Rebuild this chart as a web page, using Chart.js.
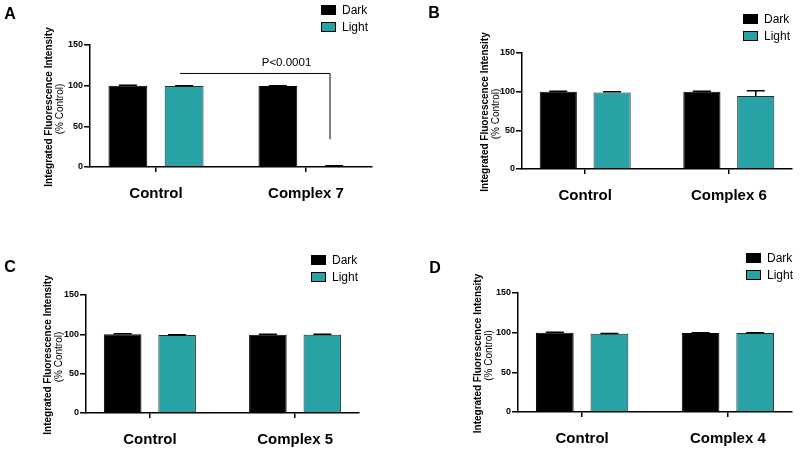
<!DOCTYPE html>
<html><head><meta charset="utf-8">
<script src="https://cdn.jsdelivr.net/npm/chart.js@4"></script>
<style>
html,body{margin:0;padding:0;background:#fff;}
body{width:800px;height:451px;position:relative;overflow:hidden;}
canvas{position:absolute;}
</style></head><body>
<canvas id="cA" width="400" height="225" style="left:0;top:0;width:400px;height:225px"></canvas>
<canvas id="cB" width="400" height="225" style="left:400px;top:0;width:400px;height:225px"></canvas>
<canvas id="cC" width="400" height="226" style="left:0;top:225px;width:400px;height:226px"></canvas>
<canvas id="cD" width="400" height="226" style="left:400px;top:225px;width:400px;height:226px"></canvas>
<script>
// ---- data ----
const seriesNames = ['Dark', 'Light'];
const yTicks = [0, 50, 100, 150];

const categoriesA = ['Control', 'Complex 7'];
const darkA = [100, 99.5];
const lightA = [99.5, 1];
const darkErrA = [0.5, 0.5];
const lightErrA = [0.5, 0.5];
const pLabelA = 'P<0.0001';

const categoriesB = ['Control', 'Complex 6'];
const darkB = [100, 100];
const lightB = [99, 94.5];
const darkErrB = [0.5, 0.5];
const lightErrB = [0.8, 6.8];

const categoriesC = ['Control', 'Complex 5'];
const darkC = [100, 99.5];
const lightC = [99, 99.5];
const darkErrC = [0.6, 0.5];
const lightErrC = [0.6, 0.5];

const categoriesD = ['Control', 'Complex 4'];
const darkD = [100, 99.5];
const lightD = [98.5, 99.5];
const darkErrD = [0.6, 0.5];
const lightErrD = [0.6, 0.5];

const darkColor = '#000000';
const lightColor = '#29a2a5';
const FONT = '"Liberation Sans", Arial, Helvetica, sans-serif';

const panelPlugin = {
  id: 'panel',
  afterDatasetsDraw(chart, args, o) {
    const ctx = chart.ctx, ys = chart.scales.y;
    chart.data.datasets.forEach((ds, di) => {
      const meta = chart.getDatasetMeta(di);
      meta.data.forEach((el, i) => {
        const e = ds.errors[i];
        const top = ys.getPixelForValue(ds.data[i].y + e);
        ctx.save();
        ctx.strokeStyle = '#000'; ctx.lineWidth = 1.5;
        ctx.beginPath();
        ctx.moveTo(el.x, el.y); ctx.lineTo(el.x, top);
        ctx.moveTo(el.x - 9, top); ctx.lineTo(el.x + 9, top);
        ctx.stroke(); ctx.restore();
      });
    });
  },
  afterDraw(chart, args, o) {
    const ctx = chart.ctx, ca = chart.chartArea, xs = chart.scales.x, ys = chart.scales.y;
    ctx.save();
    ctx.fillStyle = '#000';
    ctx.font = 'bold 16px ' + FONT;
    ctx.textAlign = 'center'; ctx.textBaseline = 'middle';
    ctx.fillText(o.letter, o.letterX, o.letterY);
    chart.data.datasets.forEach((ds, i) => {
      const y = o.legY + i * 17;
      ctx.fillStyle = ds.backgroundColor;
      ctx.fillRect(o.legX, y, 15, 10);
      ctx.strokeStyle = '#000'; ctx.lineWidth = 1;
      ctx.strokeRect(o.legX + 0.5, y + 0.5, 14, 9);
      ctx.fillStyle = '#000';
      ctx.font = '12px ' + FONT;
      ctx.textAlign = 'left'; ctx.textBaseline = 'middle';
      ctx.fillText(ds.label, o.legX + 21, y + 5.5);
    });
    const cy = (ca.top + ca.bottom) / 2 + 1;
    ctx.translate(o.titleX, cy);
    ctx.rotate(-Math.PI / 2);
    ctx.textAlign = 'center'; ctx.textBaseline = 'middle';
    ctx.font = 'bold 10px ' + FONT;
    ctx.fillText('Integrated Fluorescence Intensity', 0, 0);
    ctx.font = '10px ' + FONT;
    ctx.fillText('(% Control)', -2, 11.5);
    ctx.restore();
    if (o.bracket) {
      const b = o.bracket;
      ctx.save();
      ctx.strokeStyle = '#000'; ctx.lineWidth = 1;
      const x1 = xs.getPixelForValue(b.x1), x2 = xs.getPixelForValue(b.x2);
      const y1 = ys.getPixelForValue(b.y), y2 = ys.getPixelForValue(b.yEnd);
      ctx.beginPath();
      ctx.moveTo(x1, y1); ctx.lineTo(x2, y1); ctx.lineTo(x2, y2);
      ctx.stroke();
      ctx.fillStyle = '#000';
      ctx.font = '11.5px ' + FONT;
      ctx.textAlign = 'center'; ctx.textBaseline = 'middle';
      ctx.fillText(b.label, xs.getPixelForValue(b.tx), ys.getPixelForValue(b.ty));
      ctx.restore();
    }
  }
};

function makePanel(id, cats, dark, light, darkErr, lightErr, geo, extra) {
  const canvas = document.getElementById(id);
  const W = canvas.width, H = canvas.height;
  return new Chart(canvas, {
    type: 'bar',
    data: {
      datasets: [
        { label: seriesNames[0], data: dark.map((v, i) => ({ x: i, y: v })), errors: darkErr,
          backgroundColor: darkColor, borderColor: '#000', borderWidth: 1 },
        { label: seriesNames[1], data: light.map((v, i) => ({ x: i, y: v })), errors: lightErr,
          backgroundColor: lightColor, borderColor: '#1e2e2e', borderWidth: 1 }
      ]
    },
    options: {
      responsive: false, animation: false, devicePixelRatio: 1,
      categoryPercentage: 0.75, barPercentage: 0.69,
      layout: { padding: { left: 0, top: geo.top, right: W - geo.right, bottom: 0 } },
      plugins: {
        legend: { display: false }, tooltip: { enabled: false },
        panel: extra
      },
      scales: {
        x: {
          type: 'linear', min: -0.44, max: 1.44, bounds: 'data', offset: false,
          afterBuildTicks: s => { s.ticks = cats.map((c, i) => ({ value: i })); },
          afterFit: s => { s.height = H - geo.bottom; },
          ticks: { callback: (v, i) => cats[i], font: { family: FONT, size: 15, weight: 'bold' },
                   color: '#000', padding: 13, maxRotation: 0, autoSkip: false },
          grid: { display: true, offset: false, drawOnChartArea: false, drawTicks: true, tickLength: 5, color: '#000', lineWidth: 1.5 },
          border: { display: true, color: '#000', width: 1.5 }
        },
        y: {
          min: 0, max: 150,
          afterBuildTicks: s => { s.ticks = yTicks.map(v => ({ value: v })); },
          afterFit: s => { s.width = geo.left; },
          ticks: { font: { family: FONT, size: 9, weight: 'bold' }, color: '#000', padding: 1 },
          grid: { display: true, drawOnChartArea: false, drawTicks: true, tickLength: 6, color: '#000', lineWidth: 1.5 },
          border: { display: true, color: '#000', width: 1.5 }
        }
      }
    },
    plugins: [panelPlugin]
  });
}

makePanel('cA', categoriesA, darkA, lightA, darkErrA, lightErrA,
  { left: 90, top: 45, right: 372, bottom: 167 },
  { letter: 'A', letterX: 10, letterY: 15, legX: 321, legY: 5, titleX: 49,
    bracket: { x1: 0.16, x2: 1.16, y: 115, yEnd: 34, tx: 0.87, ty: 127.5, label: pLabelA } });
makePanel('cB', categoriesB, darkB, lightB, darkErrB, lightErrB,
  { left: 122, top: 53, right: 392, bottom: 169 },
  { letter: 'B', letterX: 34, letterY: 14, legX: 343, legY: 14, titleX: 85 });
makePanel('cC', categoriesC, darkC, lightC, darkErrC, lightErrC,
  { left: 86, top: 70, right: 359, bottom: 188 },
  { letter: 'C', letterX: 10, letterY: 43, legX: 311, legY: 30, titleX: 48 });
makePanel('cD', categoriesD, darkD, lightD, darkErrD, lightErrD,
  { left: 118, top: 68, right: 392, bottom: 187 },
  { letter: 'D', letterX: 35, letterY: 44, legX: 346, legY: 28, titleX: 78 });
</script>
</body></html>
